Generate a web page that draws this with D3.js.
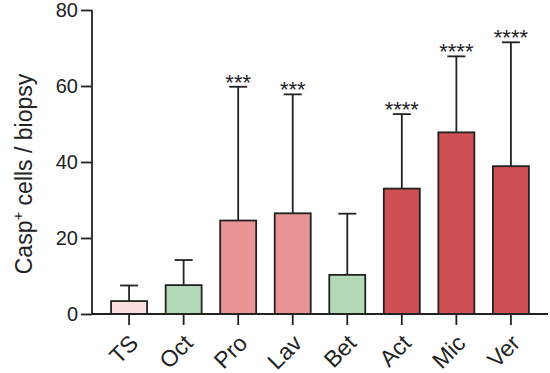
<!DOCTYPE html>
<html>
<head>
<meta charset="utf-8">
<script src="https://cdn.jsdelivr.net/npm/d3@7"></script>
<style>
  body { margin: 0; background: #fff; }
  svg { font-family: Arial, "Liberation Sans", sans-serif; }
</style>
</head>
<body>
<svg id="chart" width="550" height="373"></svg>
<script>
var groups = ["TS", "Oct", "Pro", "Lav", "Bet", "Act", "Mic", "Ver"];
var means = [3.4, 7.6, 24.6, 26.5, 10.3, 33.0, 47.8, 38.9];
var upper = [7.5, 14.2, 59.8, 57.8, 26.4, 52.6, 67.8, 71.5];
var stars = ["", "", "***", "***", "", "****", "****", "****"];
var fills = ["#f9dfe0", "#b3d9b6", "#e99495", "#e99495", "#b3d9b6", "#cd4f53", "#cd4f53", "#cd4f53"];
var yTicks = [0, 20, 40, 60, 80];

var svg = d3.select("#chart");
var ink = "#222";

var x = d3.scaleBand()
    .domain(groups)
    .range([92, 548])
    .paddingInner(0.34)
    .paddingOuter(0.35);

var y = d3.scaleLinear()
    .domain([0, 80])
    .range([314, 10]);

var data = groups.map(function (g, i) {
    return { name: g, mean: means[i], hi: upper[i], star: stars[i], fill: fills[i] };
});

// error bars (drawn first so the bar covers the lower part)
var err = svg.append("g").attr("stroke", ink).attr("stroke-width", 1.8);
err.selectAll("line.stem")
    .data(data)
    .enter().append("line")
    .attr("x1", d => x(d.name) + x.bandwidth() / 2)
    .attr("x2", d => x(d.name) + x.bandwidth() / 2)
    .attr("y1", d => y(d.mean))
    .attr("y2", d => y(d.hi));
err.selectAll("line.cap")
    .data(data)
    .enter().append("line")
    .attr("x1", d => x(d.name) + x.bandwidth() / 2 - 9)
    .attr("x2", d => x(d.name) + x.bandwidth() / 2 + 9)
    .attr("y1", d => y(d.hi))
    .attr("y2", d => y(d.hi));

// bars
svg.append("g")
    .selectAll("rect")
    .data(data)
    .enter().append("rect")
    .attr("x", d => x(d.name))
    .attr("width", x.bandwidth())
    .attr("y", d => y(d.mean))
    .attr("height", d => y(0) - y(d.mean))
    .attr("fill", d => d.fill)
    .attr("stroke", ink)
    .attr("stroke-width", 1.8);

// significance stars
svg.append("g")
    .selectAll("text")
    .data(data.filter(d => d.star))
    .enter().append("text")
    .attr("x", d => x(d.name) + x.bandwidth() / 2)
    .attr("y", d => y(d.hi) + 3)
    .attr("text-anchor", "middle")
    .style("font-size", "22px")
    .attr("fill", ink)
    .text(d => d.star);

// y axis
var yAxis = svg.append("g")
    .attr("transform", "translate(92,0)")
    .call(d3.axisLeft(y).tickValues(yTicks).tickSize(11).tickPadding(3));
yAxis.selectAll("path, line").attr("stroke", ink).attr("stroke-width", 1.8);
yAxis.select(".domain").attr("d", "M0," + y(80) + "V" + y(0));
yAxis.selectAll("text").style("font-size", "20px").attr("fill", ink);

// x axis
var xAxis = svg.append("g")
    .attr("transform", "translate(0,314)")
    .call(d3.axisBottom(x).tickSize(11).tickSizeOuter(0));
xAxis.selectAll("path, line").attr("stroke", ink).attr("stroke-width", 1.8);
xAxis.select(".domain").attr("d", "M92,0H548");
xAxis.selectAll("text")
    .style("font-size", "23px")
    .attr("fill", ink)
    .attr("text-anchor", "end")
    .attr("dy", "0.35em")
    .attr("transform", "translate(-5,15) rotate(-45)");

// y axis title
var title = svg.append("text")
    .attr("transform", "translate(32,174) rotate(-90)")
    .attr("text-anchor", "middle")
    .attr("fill", ink)
    .style("font-size", "23px");
title.append("tspan").text("Casp");
title.append("tspan").attr("dy", "-9").style("font-size", "15px").text("+");
title.append("tspan").attr("dy", "9").text(" cells / biopsy");
</script>
</body>
</html>
